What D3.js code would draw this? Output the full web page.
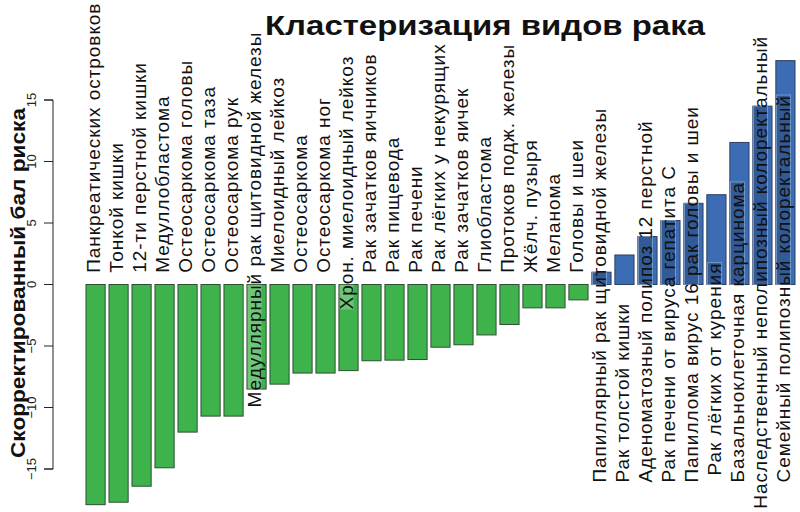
<!DOCTYPE html>
<html><head><meta charset="utf-8">
<script src="https://cdn.jsdelivr.net/npm/d3@7"></script>
<style>
html,body{margin:0;padding:0;background:#fff;}
svg{display:block;}
text{font-family:"Liberation Sans",Arial,sans-serif;}
</style></head>
<body>
<svg id="chart" width="800" height="512"></svg>
<script>
const categories = [
  "Панкреатических островков",
  "Тонкой кишки",
  "12-ти перстной кишки",
  "Медуллобластома",
  "Остеосаркома головы",
  "Остеосаркома таза",
  "Остеосаркома рук",
  "Медуллярный рак щитовидной железы",
  "Миелоидный лейкоз",
  "Остеосаркома",
  "Остеосаркома ног",
  "Хрон. миелоидный лейкоз",
  "Рак зачатков яичников",
  "Рак пищевода",
  "Рак печени",
  "Рак лёгких у некурящих",
  "Рак зачатков яичек",
  "Глиобластома",
  "Протоков подж. железы",
  "Жёлч. пузыря",
  "Меланома",
  "Головы и шеи",
  "Папиллярный рак щитовидной железы",
  "Рак толстой кишки",
  "Аденоматозный полипоз 12 перстной",
  "Рак печени от вируса гепатита С",
  "Папиллома вирус 16 рак головы и шеи",
  "Рак лёгких от курения",
  "Базальноклеточная карцинома",
  "Наследственный неполипозный колоректальный",
  "Семейный полипозный колоректальный"
];
const values = [
  -17.9, -17.7, -16.4, -14.9, -12.0, -10.7, -10.7, -8.5, -8.1, -7.2, -7.2,
  -7.0, -6.2, -6.15, -6.1, -5.1, -4.9, -4.1, -3.25, -1.9, -1.9, -1.25,
  1.0, 2.4, 3.9, 5.2, 6.6, 7.3, 11.55, 14.5, 18.2
];
const yTicks = [-15, -10, -5, 0, 5, 10, 15];
const title = "Кластеризация видов рака";
const yTitle = "Скорректированный бал риска";
// label anchor values (in data units) for labels of negative / positive bars
const labelAnchorNeg = 0.95;
const labelAnchorPos = -16.1;

const svg = d3.select("#chart");
const x = d3.scaleBand().domain(categories).range([86, 795]).paddingInner(0.1667).paddingOuter(0);
const y = d3.scaleLinear().domain([-15, 15]).range([469, 100]);

// title
svg.append("text").attr("x", 265).attr("y", 35)
  .attr("font-size", 28).attr("font-weight", "bold").attr("fill", "#111")
  .attr("textLength", 440).attr("lengthAdjust", "spacingAndGlyphs")
  .text(title);

// y axis
const yAxis = d3.axisLeft(y).tickValues(yTicks).tickSize(9).tickPadding(4).tickFormat(d3.format("d"));
const ga = svg.append("g").attr("transform", "translate(53,0)").call(yAxis);
ga.select(".domain").attr("stroke", "#222").attr("d", `M-9,${y(-15)}H0V${y(15)}H-9`);
ga.selectAll(".tick").attr("transform", null);
ga.selectAll(".tick line").attr("stroke", "#222")
  .each(function(d){ d3.select(this).attr("x1",-9).attr("x2",0).attr("y1",y(d)).attr("y2",y(d)); });
ga.selectAll(".tick text")
  .attr("font-size", 13).attr("fill", "#222").attr("font-family", "Liberation Sans, Arial, sans-serif")
  .attr("text-anchor", "middle").attr("x", null).attr("y", null).attr("dy", null)
  .each(function(d){ d3.select(this).attr("transform", `translate(-17,${y(d)}) rotate(-90)`); });

// y title
svg.append("text")
  .attr("transform", `translate(25,283) rotate(-90)`)
  .attr("text-anchor", "middle").attr("font-size", 20).attr("font-weight", "bold").attr("fill", "#111")
  .attr("textLength", 350).attr("lengthAdjust", "spacingAndGlyphs")
  .text(yTitle);

// bars
const data = categories.map((c, i) => ({c, v: values[i]}));
svg.append("g").selectAll("rect").data(data).join("rect")
  .attr("x", d => x(d.c))
  .attr("width", x.bandwidth())
  .attr("y", d => y(Math.max(0, d.v)))
  .attr("height", d => Math.abs(y(d.v) - y(0)))
  .attr("fill", d => d.v < 0 ? "#3fb34b" : "#3c6db4")
  .attr("stroke", d => d.v < 0 ? "#2f4f33" : "#2b3f63")
  .attr("stroke-width", 1);

// labels
const hang = {"Медуллярный рак щитовидной железы": "Медуллярный ", "Хрон. миелоидный лейкоз": "Хро",
              "Наследственный неполипозный колоректальный": "На"};
const lift = {"Рак лёгких от курения": 7};
const labelSize = 19, labelSpacing = 0.95;
const meas = svg.append("text").attr("font-size", labelSize).attr("letter-spacing", labelSpacing).attr("visibility", "hidden");
function textLen(s){ meas.text(s); return meas.node().getComputedTextLength(); }

data.forEach(d => {
  d.cx = x(d.c) + x.bandwidth() / 2 - 2;
  let by = y(d.v < 0 ? labelAnchorNeg : labelAnchorPos);
  if (hang[d.c]) by += textLen(hang[d.c]);
  if (lift[d.c]) by -= lift[d.c];
  d.by = by;
  d.ty = by - textLen(d.c);
  const b0 = Math.min(y(0), y(d.v)), b1 = Math.max(y(0), y(d.v));
  d.o0 = Math.max(b0, d.ty); d.o1 = Math.min(b1, d.by);
});
meas.remove();

// highlight boxes where label text sits over its own bar
svg.append("g").selectAll("rect").data(data.filter(d => d.o1 - d.o0 > 4)).join("rect")
  .attr("x", d => d.cx - 7).attr("width", 14)
  .attr("y", d => d.o0).attr("height", d => d.o1 - d.o0)
  .attr("fill", d => d.v < 0 ? "rgba(255,255,255,0.25)" : "rgba(30,55,100,0.35)")
  .attr("stroke", d => d.v < 0 ? "none" : "rgba(170,190,220,0.6)").attr("stroke-width", 1);

svg.append("g").selectAll("text").data(data).join("text")
  .attr("font-size", labelSize).attr("letter-spacing", labelSpacing).attr("fill", "#111")
  .attr("text-anchor", "start").attr("dy", "0.36em")
  .attr("transform", d => `translate(${d.cx},${d.by}) rotate(-90)`)
  .text(d => d.c);
</script>
</body></html>
